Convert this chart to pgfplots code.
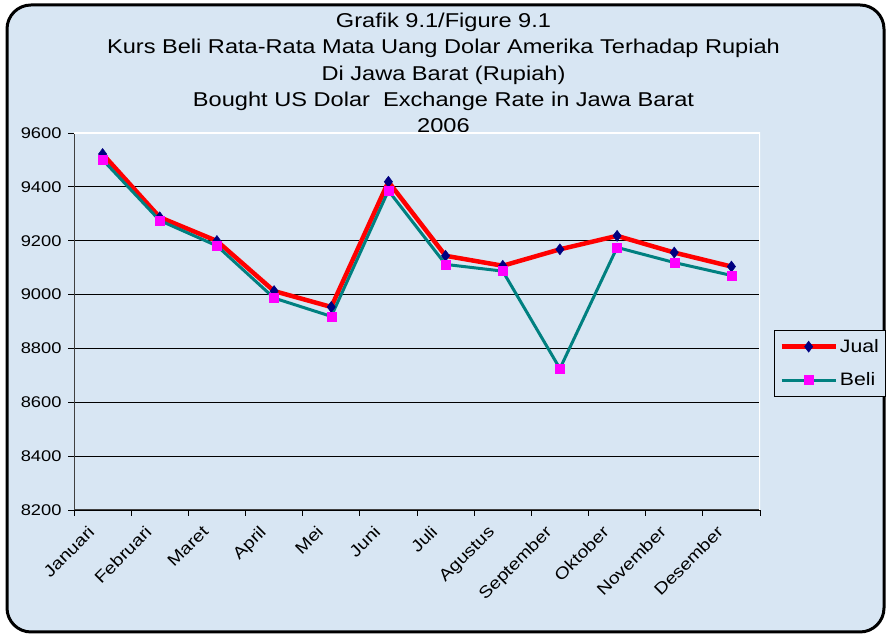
\documentclass[border=0pt]{standalone}
\usepackage{pgfplots}
\pgfplotsset{compat=1.18}
\usepackage{fontspec}
\setmainfont{Liberation Sans}[FakeStretch=1.18]
\definecolor{bg}{RGB}{216,230,243}
\definecolor{jual}{RGB}{255,0,0}
\definecolor{navy}{RGB}{0,0,128}
\definecolor{tealc}{RGB}{0,128,128}
\definecolor{mag}{RGB}{255,0,255}
\pgfplotstableread{
x jual beli
1 9522 9501
2 9287 9275
3 9199 9181
4 9013 8987
5 8954 8919
6 9419 9386
7 9144 9112
8 9107 9087
9 9168 8725
10 9218 9175
11 9156 9119
12 9104 9071
}\datatab
\begin{document}
\begin{tikzpicture}[x=1pt,y=1pt]
\fill[white] (0,0) rectangle (887,636);
\draw[black, line width=3pt, rounded corners=24pt, fill=bg] (7,4) rectangle (884,631);
\node[align=center, font=\fontsize{20}{26.3}\selectfont, inner sep=0pt] at (443.5,563) {Grafik 9.1/Figure 9.1\\ Kurs Beli Rata-Rata Mata Uang Dolar Amerika Terhadap Rupiah\\ Di Jawa Barat (Rupiah)\\ Bought US Dolar\ \ Exchange Rate in Jawa Barat\\ 2006};
\begin{axis}[at={(74pt,126pt)}, anchor=south west, scale only axis, width=686pt, height=377pt,
  xmin=0.5, xmax=12.5, ymin=8200, ymax=9600,
  ytick={8200,8400,...,9600},
  xtick={0.5,1.5,...,12.5}, x tick label as interval,
  xticklabels={Januari,Februari,Maret,April,Mei,Juni,Juli,Agustus,September,Oktober,November,Desember},
  tick align=outside, major tick length=6pt,
  tick style={black, line width=0.8pt},
  ymajorgrids, grid style={black, line width=0.8pt},
  axis x line*=bottom, axis y line*=left,
  axis line style={-, draw=black!75, line width=1pt},
  /pgf/number format/assume math mode=true,
  /pgf/number format/1000 sep={},
  yticklabel style={font=\fontsize{15.5}{18}\selectfont, xshift=-3pt},
  xticklabel style={font=\fontsize{16.5}{18}\selectfont, rotate=45, anchor=north east, inner sep=1pt, xshift=-16pt, yshift=6pt},
  legend style={at={(rel axis cs:1.0204,0.4775)}, anchor=north west, draw=black, line width=0.8pt, fill=bg,
    font=\fontsize{18}{20}\selectfont, inner xsep=5pt, inner ysep=7pt, row sep=15pt,
    cells={anchor=west}},
  legend image code/.code={\draw[mark repeat=2,mark phase=2,#1] plot coordinates {(0pt,0pt) (27pt,0pt) (54pt,0pt)};},
]
\addplot[jual, line width=4.5pt, mark=diamond*, mark size=5.5pt, mark options={fill=navy, draw=navy, line width=0.5pt}] table[x=x, y=jual] {\datatab};
\addlegendentry{Jual}
\addplot[tealc, line width=3pt, mark=square*, mark size=4.5pt, mark options={fill=mag, draw=mag, line width=0.5pt}] table[x=x, y=beli] {\datatab};
\addlegendentry{Beli}
\draw[white, line width=1.2pt] (rel axis cs:0,1) -- (rel axis cs:1,1) -- (rel axis cs:1,0);
\end{axis}
\end{tikzpicture}
\end{document}
